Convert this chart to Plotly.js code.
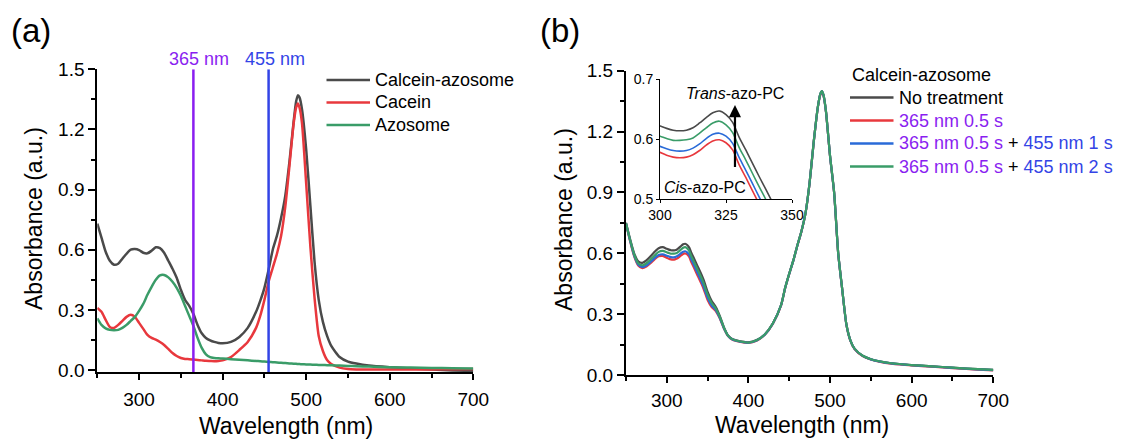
<!DOCTYPE html>
<html>
<head>
<meta charset="utf-8">
<script src="https://cdn.plot.ly/plotly-3.0.1.min.js"></script>
<style>html,body{margin:0;padding:0;background:#fff;}#chart{width:1123px;height:439px;}</style>
</head>
<body>
<div id="chart"></div>
<script>
// ---------- Panel (a) data ----------
const wavelengthA = [250,255,260,265,270,275,280,285,290,295,300,305,310,315,320,325,330,335,340,345,350,355,360,365,370,375,380,385,390,395,400,410,420,430,440,445,450,455,460,465,470,475,480,485,488,490,492,495,500,505,510,515,520,525,530,540,550,560,575,600,625,650,675,700];
const calceinAzosomeA = [0.73,0.66,0.59,0.545,0.525,0.53,0.555,0.58,0.60,0.603,0.598,0.585,0.582,0.595,0.612,0.608,0.585,0.545,0.505,0.46,0.40,0.35,0.32,0.28,0.225,0.183,0.16,0.148,0.14,0.135,0.133,0.14,0.165,0.21,0.29,0.345,0.41,0.50,0.60,0.67,0.76,0.87,1.04,1.24,1.34,1.37,1.36,1.30,1.10,0.82,0.54,0.35,0.24,0.17,0.12,0.065,0.042,0.032,0.022,0.014,0.008,0.003,-0.002,-0.005];
const caceinA = [0.31,0.29,0.25,0.215,0.21,0.225,0.245,0.265,0.275,0.265,0.235,0.205,0.175,0.16,0.152,0.14,0.125,0.105,0.085,0.07,0.06,0.055,0.054,0.052,0.05,0.048,0.046,0.045,0.044,0.045,0.048,0.065,0.10,0.14,0.21,0.27,0.35,0.44,0.51,0.58,0.67,0.815,1.02,1.23,1.31,1.33,1.31,1.23,0.93,0.615,0.36,0.17,0.095,0.05,0.03,0.012,0.005,0.003,0.002,0.002,0.002,0.003,0.004,0.005];
const azosomeA = [0.258,0.225,0.208,0.2,0.198,0.2,0.21,0.225,0.245,0.265,0.295,0.33,0.375,0.415,0.45,0.472,0.474,0.462,0.44,0.41,0.37,0.32,0.27,0.22,0.16,0.11,0.078,0.064,0.06,0.058,0.057,0.054,0.051,0.048,0.045,0.0435,0.042,0.0405,0.039,0.0375,0.036,0.0345,0.033,0.0315,0.031,0.030,0.0295,0.029,0.028,0.027,0.026,0.0255,0.025,0.024,0.0235,0.022,0.02,0.019,0.017,0.014,0.012,0.01,0.009,0.008];
const namesA = ['Calcein-azosome','Cacein','Azosome'];
const laserLines = [365, 455];
const laserLabels = ['365 nm', '455 nm'];

// ---------- Panel (b) data ----------
const wavelengthB = [250,255,260,265,270,275,280,285,290,295,300,302.5,305,307.5,310,312.5,315,317.5,320,322.5,325,327.5,330,332.5,335,337.5,340,342.5,345,347.5,350,355,360,365,370,375,380,385,390,395,400,410,420,430,440,445,450,455,460,465,470,475,480,485,488,490,492,495,500,505,510,515,520,525,530,540,550,560,575,600,625,650,675,700];
const noTreatment = [0.75,0.67,0.60,0.56,0.553,0.565,0.585,0.607,0.625,0.630,0.622,0.618,0.615,0.614,0.615,0.619,0.627,0.636,0.644,0.647,0.641,0.628,0.603,0.582,0.56,0.538,0.517,0.495,0.47,0.44,0.41,0.365,0.335,0.29,0.235,0.195,0.178,0.171,0.166,0.163,0.161,0.172,0.20,0.255,0.345,0.43,0.50,0.565,0.64,0.71,0.80,0.95,1.15,1.32,1.385,1.40,1.38,1.30,1.08,0.90,0.60,0.42,0.25,0.17,0.13,0.095,0.078,0.068,0.058,0.049,0.043,0.036,0.03,0.025];
const uv05 = [0.745,0.66,0.585,0.54,0.527,0.535,0.551,0.57,0.585,0.587,0.578,0.573,0.570,0.569,0.570,0.574,0.581,0.59,0.597,0.599,0.594,0.582,0.557,0.536,0.514,0.492,0.471,0.449,0.425,0.397,0.37,0.335,0.315,0.278,0.229,0.192,0.175,0.168,0.163,0.16,0.158,0.169,0.198,0.253,0.343,0.428,0.498,0.563,0.638,0.708,0.798,0.948,1.148,1.318,1.38,1.395,1.375,1.297,1.077,0.897,0.597,0.417,0.248,0.168,0.128,0.093,0.076,0.066,0.056,0.047,0.041,0.034,0.028,0.023];
const uv05blue1 = [0.747,0.663,0.589,0.545,0.532,0.54,0.557,0.576,0.591,0.595,0.588,0.584,0.581,0.580,0.581,0.585,0.592,0.601,0.608,0.610,0.605,0.593,0.569,0.548,0.526,0.504,0.483,0.461,0.437,0.408,0.38,0.342,0.32,0.281,0.23,0.193,0.176,0.169,0.164,0.161,0.159,0.17,0.199,0.254,0.344,0.429,0.499,0.564,0.639,0.709,0.799,0.949,1.149,1.319,1.383,1.398,1.378,1.298,1.078,0.898,0.598,0.418,0.249,0.169,0.129,0.094,0.077,0.067,0.057,0.048,0.042,0.035,0.029,0.024];
const uv05blue2 = [0.748,0.666,0.594,0.551,0.541,0.551,0.569,0.589,0.607,0.612,0.605,0.601,0.598,0.598,0.599,0.602,0.61,0.619,0.627,0.630,0.624,0.611,0.586,0.565,0.543,0.521,0.50,0.478,0.454,0.425,0.396,0.355,0.328,0.286,0.233,0.194,0.177,0.17,0.165,0.162,0.16,0.171,0.2,0.255,0.345,0.43,0.50,0.565,0.64,0.71,0.80,0.95,1.15,1.32,1.385,1.40,1.38,1.30,1.08,0.90,0.60,0.42,0.25,0.17,0.13,0.095,0.078,0.068,0.058,0.049,0.043,0.036,0.03,0.025];

const VIOLET = '#8A1EF0';
const BLUE_L = '#3344E6';
const legendB = [
  'No treatment',
  '<span style="color:' + VIOLET + '">365 nm 0.5 s</span>',
  '<span style="color:' + VIOLET + '">365 nm 0.5 s</span> + <span style="color:' + BLUE_L + '">455 nm 1 s</span>',
  '<span style="color:' + VIOLET + '">365 nm 0.5 s</span> + <span style="color:' + BLUE_L + '">455 nm 2 s</span>'
];
const legendBTitle = 'Calcein-azosome';

// tick labels
const xTicks = [300,400,500,600,700];
const yTicks = [0.0,0.3,0.6,0.9,1.2,1.5];
const yTickText = ['0.0','0.3','0.6','0.9','1.2','1.5'];
const insetXTicks = [300,325,350];
const insetYTicks = [0.5,0.6,0.7];

// ---------- styles ----------
const FONT = 'Liberation Sans, Arial, sans-serif';
const colA = ['#4A4A4A','#E8383D','#3A9C68'];
const colB = ['#4A4A4A','#E8383D','#2A6BD8','#3A9C68'];
const W = 1123, H = 439;
const px = v => v / W;
const py = v => 1 - v / H;
const YMIN_A = -0.01;

const traces = [];
[calceinAzosomeA, caceinA, azosomeA].forEach((ys, i) => {
  traces.push({x: wavelengthA, y: ys, type: 'scatter', mode: 'lines', name: namesA[i], showlegend: false,
    line: {color: colA[i], width: 2.5, shape: 'spline', smoothing: 0.6},
    xaxis: 'x', yaxis: 'y', hoverinfo: 'skip'});
});
laserLines.forEach((w, i) => {
  traces.push({x: [w, w], y: [YMIN_A, 1.5], type: 'scatter', mode: 'lines', showlegend: false,
    line: {color: i === 0 ? VIOLET : BLUE_L, width: 2.5}, xaxis: 'x', yaxis: 'y', cliponaxis: false, hoverinfo: 'skip'});
});
[noTreatment, uv05, uv05blue1, uv05blue2].forEach((ys, i) => {
  traces.push({x: wavelengthB, y: ys, type: 'scatter', mode: 'lines', name: legendB[i], showlegend: false,
    line: {color: colB[i], width: 2.2, shape: 'spline', smoothing: 0.6},
    xaxis: 'x2', yaxis: 'y2', hoverinfo: 'skip'});
});
[noTreatment, uv05, uv05blue1, uv05blue2].forEach((ys, i) => {
  traces.push({x: wavelengthB, y: ys, type: 'scatter', mode: 'lines', showlegend: false,
    line: {color: colB[i], width: 1.6, shape: 'spline', smoothing: 0.8},
    xaxis: 'x3', yaxis: 'y3', hoverinfo: 'skip'});
});

const mainX = (dom, anchor, standoff) => ({
  domain: dom, anchor: anchor, range: [250, 700], tickvals: xTicks, ticktext: xTicks.map(String),
  showline: true, linecolor: '#000', linewidth: 2, ticks: 'outside', ticklen: 6, tickwidth: 2, tickcolor: '#000',
  ticklabelstandoff: standoff,
  minor: {tickvals: [250,350,450,550,650], ticks: 'outside', ticklen: 4, tickwidth: 2, tickcolor: '#000'},
  showgrid: false, zeroline: false, tickfont: {family: FONT, size: 19, color: '#000'}
});
const mainY = (dom, anchor, rmin) => ({
  domain: dom, anchor: anchor, range: [rmin, 1.5], tickvals: yTicks, ticktext: yTickText,
  showline: true, linecolor: '#000', linewidth: 2, ticks: 'outside', ticklen: 7, tickwidth: 2, tickcolor: '#000',
  minor: {tickvals: [0.15,0.45,0.75,1.05,1.35], ticks: 'outside', ticklen: 4, tickwidth: 2, tickcolor: '#000'},
  showgrid: false, zeroline: false, tickfont: {family: FONT, size: 19, color: '#000'}
});

const txt = (text, x, y, size, extra) => Object.assign({text: text, x: x, y: y, xref: 'paper', yref: 'paper',
  xanchor: 'left', yanchor: 'middle', showarrow: false, font: {family: FONT, size: size, color: '#000'}}, extra || {});

const annotations = [
  txt('(a)', px(9), py(30), 33),
  txt('(b)', px(538), py(30), 33),
  txt('Wavelength (nm)', px(286), py(426), 23, {xanchor: 'center'}),
  txt('Wavelength (nm)', px(802), py(425), 23, {xanchor: 'center'}),
  txt('Absorbance (a.u.)', px(34), py(219), 23, {xanchor: 'center', textangle: -90}),
  txt('Absorbance (a.u.)', px(564), py(220), 23, {xanchor: 'center', textangle: -90}),
  {text: '<i>Trans</i>-azo-PC', x: 328.4, y: 0.677, xref: 'x3', yref: 'y3', xanchor: 'center', yanchor: 'middle', showarrow: false, font: {family: FONT, size: 16, color: '#000'}},
  {text: '<i>Cis</i>-azo-PC', x: 316.9, y: 0.52, xref: 'x3', yref: 'y3', xanchor: 'center', yanchor: 'middle', showarrow: false, font: {family: FONT, size: 16, color: '#000'}},
  {text: '', x: 328.4, y: 0.657, ax: 328.4, ay: 0.551, xref: 'x3', yref: 'y3', axref: 'x3', ayref: 'y3', showarrow: true, arrowhead: 2, arrowsize: 1.1, arrowwidth: 2.2, arrowcolor: '#000'}
];
laserLines.forEach((w, i) => {
  annotations.push({text: laserLabels[i], x: w, xshift: 6, y: py(59), xref: 'x', yref: 'paper', xanchor: 'center', yanchor: 'middle', showarrow: false,
    font: {family: FONT, size: 18, color: i === 0 ? VIOLET : BLUE_L}});
});

// ---------- legends (line samples + real text) ----------
const shapes = [];
const legendRowsA = [80, 102.5, 125];
namesA.forEach((n, i) => {
  shapes.push({type: 'line', xref: 'paper', yref: 'paper', x0: px(326.5), x1: px(370), y0: py(legendRowsA[i]), y1: py(legendRowsA[i]),
    line: {color: colA[i], width: 2.5}});
  annotations.push(txt(n, px(372.5), py(legendRowsA[i]), 18));
});
annotations.push(txt(legendBTitle, px(850), py(75), 18));
const legendRowsB = [97.5, 120.5, 143.5, 166.5];
legendB.forEach((n, i) => {
  shapes.push({type: 'line', xref: 'paper', yref: 'paper', x0: px(850), x1: px(893.5), y0: py(legendRowsB[i]), y1: py(legendRowsB[i]),
    line: {color: colB[i], width: 2.5}});
  annotations.push(txt(n, px(897), py(legendRowsB[i]), 18));
});

const layout = {
  width: W, height: H, margin: {l: 0, r: 0, t: 0, b: 0},
  paper_bgcolor: '#fff', plot_bgcolor: 'rgba(0,0,0,0)', showlegend: false,
  font: {family: FONT, color: '#000'},
  xaxis: mainX([px(97.3), px(473.3)], 'y', 3),
  yaxis: mainY([py(372), py(69.3)], 'x', YMIN_A),
  xaxis2: mainX([px(626), px(993.3)], 'y2', 1),
  yaxis2: mainY([py(375), py(70.7)], 'x2', 0),
  xaxis3: {domain: [px(660), px(792)], anchor: 'y3', range: [300, 350], tickvals: insetXTicks, showline: true, linecolor: '#000', linewidth: 1,
    ticks: 'outside', ticklen: 3, tickwidth: 1, tickcolor: '#000', showgrid: false, zeroline: false, tickfont: {family: FONT, size: 14, color: '#000'}},
  yaxis3: {domain: [py(199), py(79.3)], anchor: 'x3', range: [0.5, 0.7], tickvals: insetYTicks, ticktext: ['0.5','0.6','0.7'], showline: true, linecolor: '#000', linewidth: 1,
    ticks: 'outside', ticklen: 3, tickwidth: 1, tickcolor: '#000', showgrid: false, zeroline: false, tickfont: {family: FONT, size: 14, color: '#000'}},
  shapes: shapes,
  annotations: annotations
};

Plotly.newPlot('chart', traces, layout, {displayModeBar: false, staticPlot: true});
</script>
</body>
</html>
